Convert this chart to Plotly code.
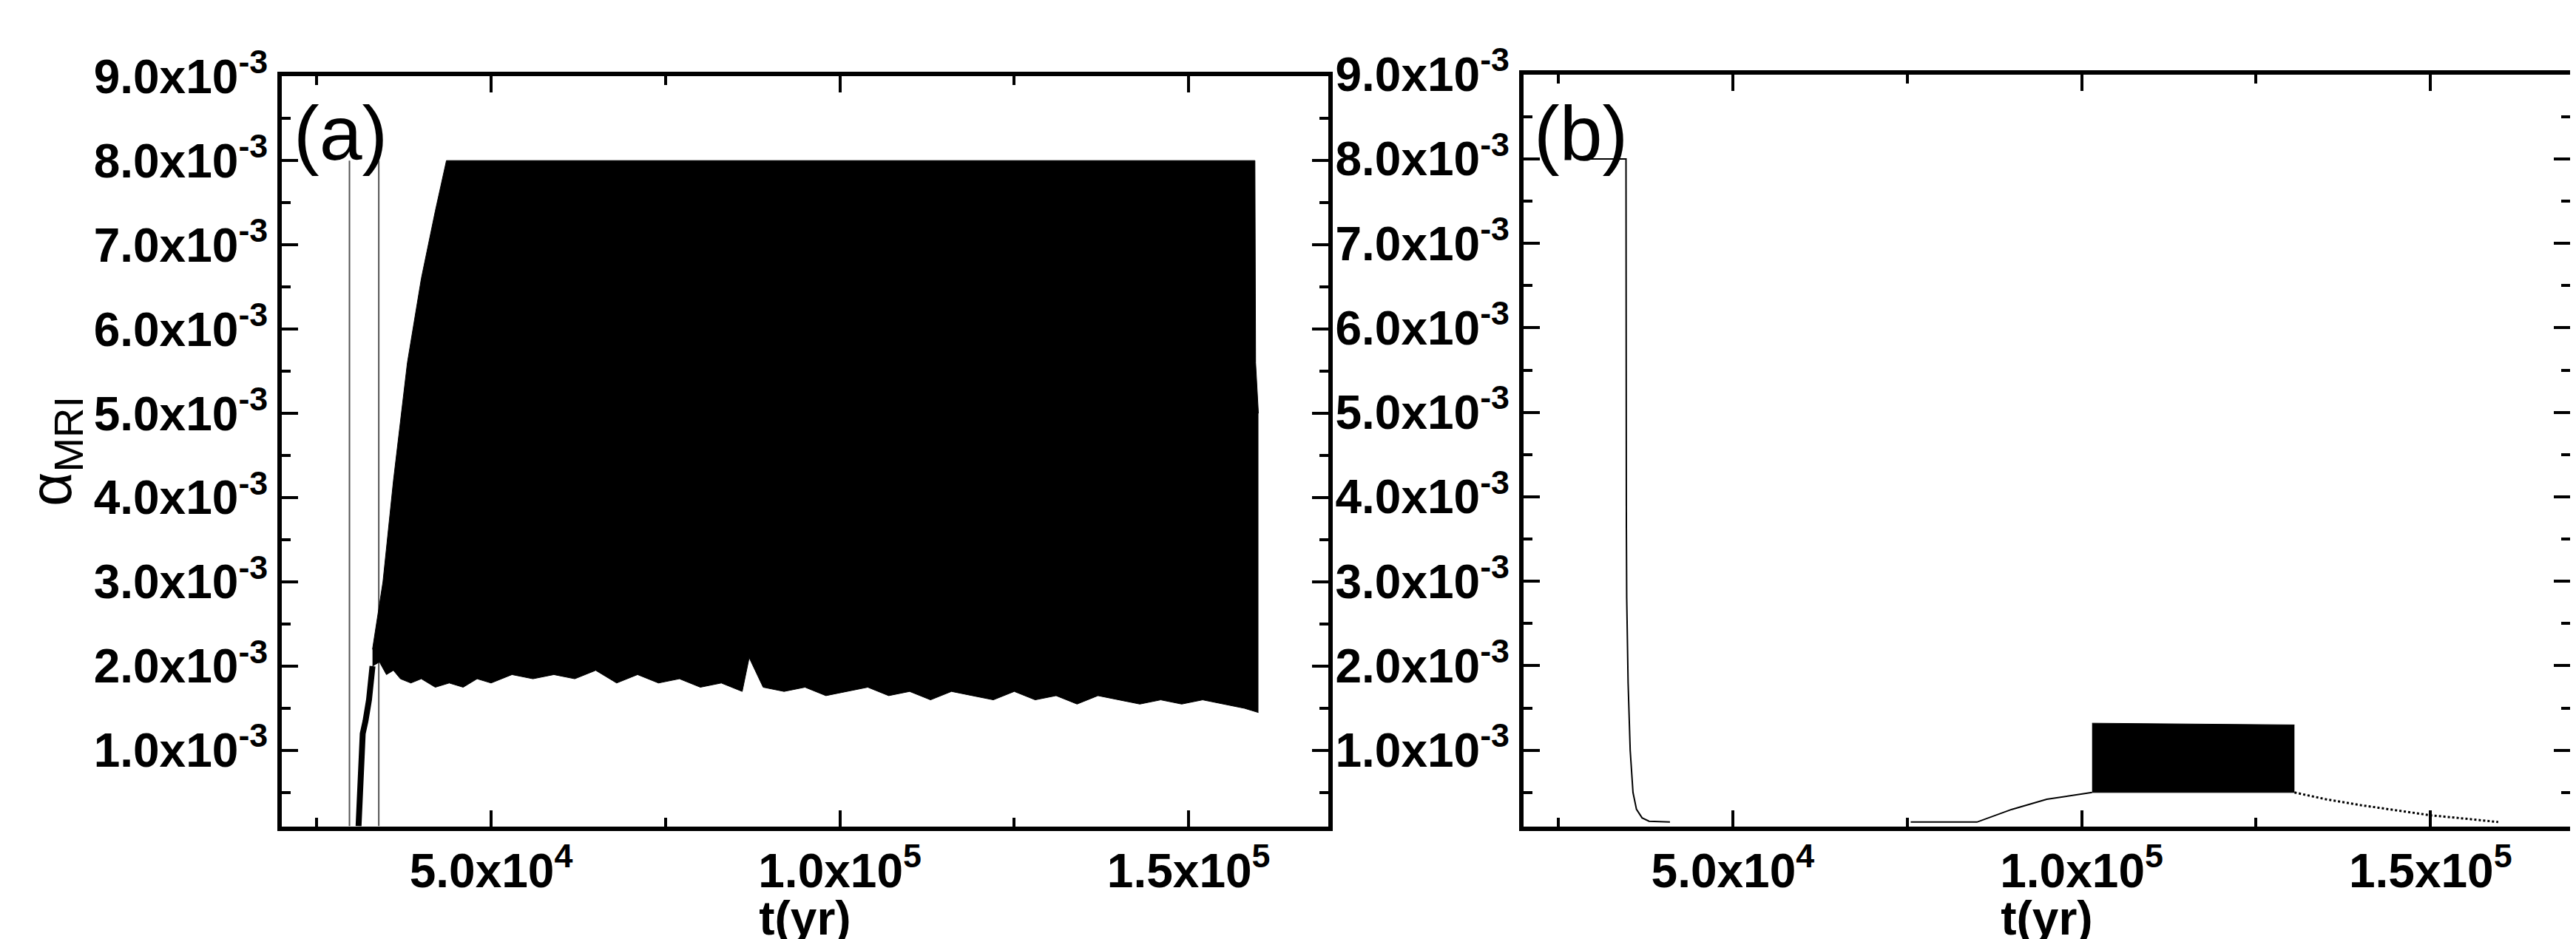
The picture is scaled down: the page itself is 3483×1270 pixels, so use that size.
import plotly.graph_objects as go

# panel (a): thin spikes, initial rise, dense oscillation envelope
a_spike_t = [29700, 29700, None, 33900, 33900]
a_spike_y = [0.1e-3, 8.0e-3, None, 0.1e-3, 8.0e-3]

a_rise_t = [31000, 31300, 31600, 32000, 32500, 33000]
a_rise_y = [0.1e-3, 0.7e-3, 1.2e-3, 1.35e-3, 1.6e-3, 2.0e-3]

a_top_t = [33000, 34500, 36000, 38000, 40000, 42000, 43600, 159500, 159600, 160000]
a_top_y = [2.2e-3, 3.0e-3, 4.2e-3, 5.6e-3, 6.6e-3, 7.4e-3, 8.0e-3, 8.0e-3, 5.6e-3, 5.0e-3]

a_low_t = [33000, 34000, 35000, 36000, 37000, 38500, 40000, 42000, 44000, 46000, 48000,
           50000, 53000, 56000, 59000, 62000, 65000, 68000, 71000, 74000, 77000, 80000,
           83000, 86000, 87000, 89000, 92000, 95000, 98000, 101000, 104000, 107000,
           110000, 113000, 116000, 119000, 122000, 125000, 128000, 131000, 134000,
           137000, 140000, 143000, 146000, 149000, 152000, 155000, 158000, 160000]
a_low_y = [2.0e-3, 2.05e-3, 1.9e-3, 1.95e-3, 1.85e-3, 1.8e-3, 1.85e-3, 1.75e-3, 1.8e-3,
           1.75e-3, 1.85e-3, 1.8e-3, 1.9e-3, 1.85e-3, 1.9e-3, 1.85e-3, 1.95e-3, 1.8e-3,
           1.9e-3, 1.8e-3, 1.85e-3, 1.75e-3, 1.8e-3, 1.7e-3, 2.1e-3, 1.75e-3, 1.7e-3,
           1.75e-3, 1.65e-3, 1.7e-3, 1.75e-3, 1.65e-3, 1.7e-3, 1.6e-3, 1.7e-3, 1.65e-3,
           1.6e-3, 1.7e-3, 1.6e-3, 1.65e-3, 1.55e-3, 1.65e-3, 1.6e-3, 1.55e-3, 1.6e-3,
           1.55e-3, 1.6e-3, 1.55e-3, 1.5e-3, 1.45e-3]

# panel (b): decay curve, slow rise, dense block, decline
b_curve_t = [29100, 34700, 34750, 34800, 35000, 35300, 35700, 36200, 37000, 38000, 41000,
             None, 75500, 85000, 90000, 95000, 101500]
b_curve_y = [8.0e-3, 8.0e-3, 3.7e-3, 2.8e-3, 1.8e-3, 1.0e-3, 0.5e-3, 0.3e-3, 0.2e-3,
             0.16e-3, 0.15e-3, None, 0.15e-3, 0.15e-3, 0.3e-3, 0.42e-3, 0.5e-3]

b_block_t = [101500, 130500]
b_block_low = [0.5e-3, 0.5e-3]
b_block_top = [1.32e-3, 1.3e-3]

b_tail_t = [130500, 135000, 140000, 145000, 150000, 155000, 159700]
b_tail_y = [0.5e-3, 0.42e-3, 0.35e-3, 0.29e-3, 0.23e-3, 0.19e-3, 0.15e-3]

y_ticks = [i * 1e-3 for i in range(1, 10)]
y_text = [f'{i}.0x10<sup>-3</sup>' for i in range(1, 10)]
x_ticks = [5e4, 1e5, 1.5e5]
x_text = ['5.0x10<sup>4</sup>', '1.0x10<sup>5</sup>', '1.5x10<sup>5</sup>']

BLACK = 'black'
fig = go.Figure()

# (a)
fig.add_trace(go.Scatter(x=a_spike_t, y=a_spike_y, mode='lines',
                         line=dict(color='#555', width=2), xaxis='x', yaxis='y'))
fig.add_trace(go.Scatter(x=a_rise_t, y=a_rise_y, mode='lines',
                         line=dict(color=BLACK, width=8), xaxis='x', yaxis='y'))
fig.add_trace(go.Scatter(x=a_top_t, y=a_top_y, mode='lines',
                         line=dict(color=BLACK, width=1), xaxis='x', yaxis='y'))
fig.add_trace(go.Scatter(x=a_low_t, y=a_low_y, mode='lines', fill='tonexty',
                         fillcolor=BLACK, line=dict(color=BLACK, width=1),
                         xaxis='x', yaxis='y'))

# (b)
fig.add_trace(go.Scatter(x=b_curve_t, y=b_curve_y, mode='lines',
                         line=dict(color=BLACK, width=2), xaxis='x2', yaxis='y2'))
fig.add_trace(go.Scatter(x=b_block_t, y=b_block_low, mode='lines',
                         line=dict(color=BLACK, width=1), xaxis='x2', yaxis='y2'))
fig.add_trace(go.Scatter(x=b_block_t, y=b_block_top, mode='lines', fill='tonexty',
                         fillcolor=BLACK, line=dict(color=BLACK, width=1),
                         xaxis='x2', yaxis='y2'))
fig.add_trace(go.Scatter(x=b_tail_t, y=b_tail_y, mode='lines',
                         line=dict(color=BLACK, width=3, dash='dot'), xaxis='x2', yaxis='y2'))

tick_font = dict(family='Liberation Sans Narrow, Liberation Sans', size=64, color=BLACK,
                 weight='bold')
common_x = dict(range=[2e4, 1.7e5], tickvals=x_ticks, ticktext=x_text, ticks='inside',
                ticklen=22, tickwidth=4, tickcolor=BLACK, mirror='allticks',
                showline=True, linewidth=6, linecolor=BLACK, showgrid=False,
                zeroline=False, tickfont=tick_font,
                minor=dict(tickvals=[2.5e4, 7.5e4, 1.25e5], ticks='inside', ticklen=12,
                           tickwidth=4, tickcolor=BLACK),
                title=dict(text='t(yr)', font=tick_font, standoff=0))
common_y = dict(range=[0.1e-3, 9e-3], tickvals=y_ticks, ticktext=y_text, ticks='inside',
                ticklen=22, tickwidth=4, tickcolor=BLACK, mirror='allticks',
                showline=True, linewidth=6, linecolor=BLACK, showgrid=False,
                zeroline=False, tickfont=tick_font,
                minor=dict(tickvals=[(i + 0.5) * 1e-3 for i in range(0, 9)], ticks='inside',
                           ticklen=12, tickwidth=4, tickcolor=BLACK))

fig.update_layout(
    width=3483, height=1270,
    paper_bgcolor='white', plot_bgcolor='white',
    showlegend=False,
    margin=dict(l=0, r=0, t=0, b=0),
    xaxis=dict(domain=[0.1071, 0.5133], anchor='y', **common_x),
    yaxis=dict(domain=[0.131, 0.959], anchor='x', **common_y,
               title=dict(text='α<sub>MRI</sub>',
                          font=dict(family='Liberation Sans', size=80, color=BLACK),
                          standoff=6)),
    xaxis2=dict(domain=[0.5891, 0.9954], anchor='y2', **common_x),
    yaxis2=dict(domain=[0.131, 0.961], anchor='x2', **common_y),
    annotations=[
        dict(text='(a)', x=0.111, y=0.945, xref='paper', yref='paper', xanchor='left',
             yanchor='top', showarrow=False,
             font=dict(family='Liberation Sans', size=104, color=BLACK)),
        dict(text='(b)', x=0.5925, y=0.945, xref='paper', yref='paper', xanchor='left',
             yanchor='top', showarrow=False,
             font=dict(family='Liberation Sans', size=104, color=BLACK)),
    ],
)

fig.write_html('out.html')
